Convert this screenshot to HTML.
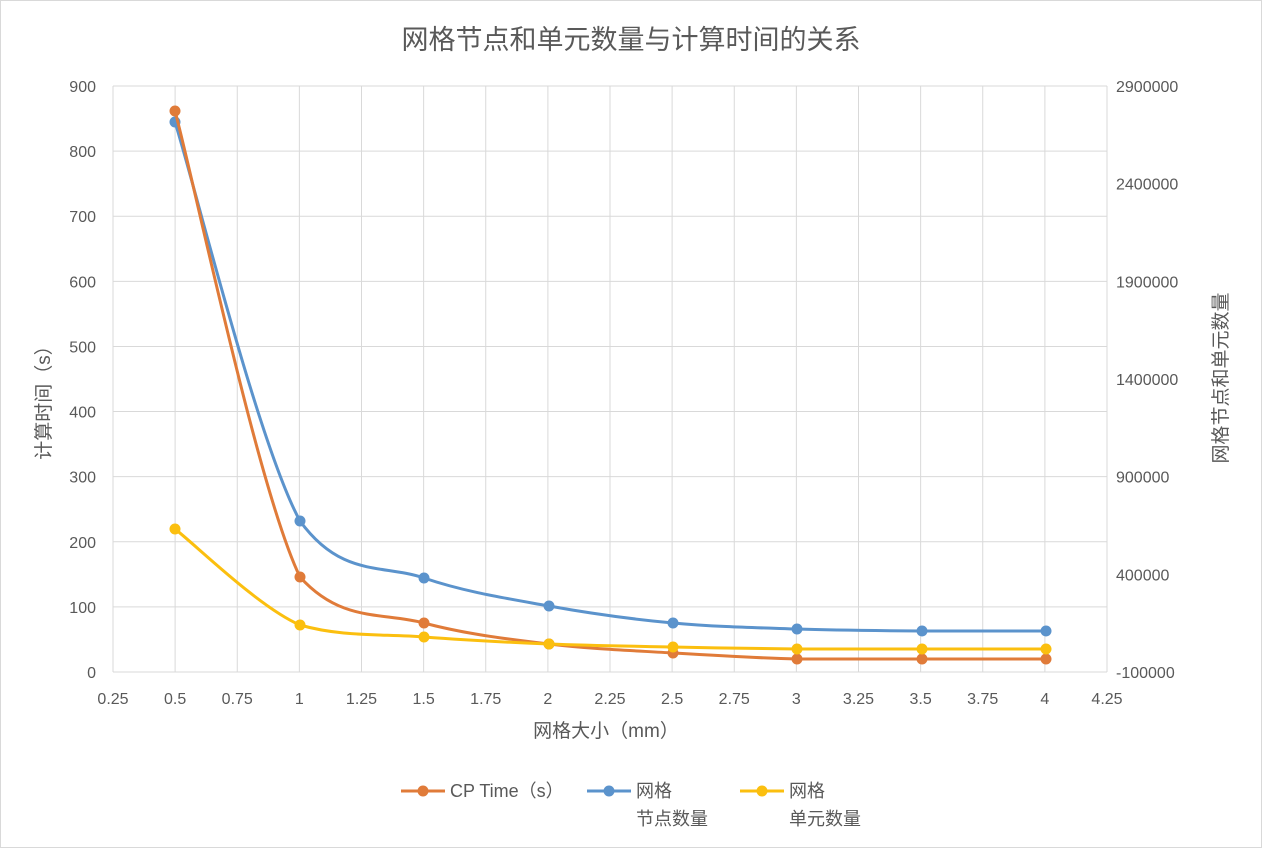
<!DOCTYPE html>
<html><head><meta charset="utf-8"><style>
body{margin:0;background:#fff;}
svg text{font-family:"Liberation Sans","Noto Sans CJK SC",sans-serif;fill:#595959;}
</style></head><body>
<svg id="s" width="1262" height="848" xmlns="http://www.w3.org/2000/svg">
<rect x="0.5" y="0.5" width="1261" height="847" fill="#fff" stroke="#d9d9d9"/>
<text x="631" y="49" font-size="27" text-anchor="middle">网格节点和单元数量与计算时间的关系</text>
<g id="grid"></g>
<g id="series"></g>
<text transform="translate(50,398) rotate(-90)" font-size="19" text-anchor="middle">计算时间（s）</text>
<text transform="translate(1227,378) rotate(-90)" font-size="19" text-anchor="middle">网格节点和单元数量</text>
<text x="606" y="737" font-size="19" text-anchor="middle">网格大小（mm）</text>
<g font-size="18">
<line x1="401" y1="791" x2="445" y2="791" stroke="#e07b39" stroke-width="3"/><circle cx="423" cy="791" r="5.5" fill="#e07b39"/>
<text x="450" y="797">CP Time（s）</text>
<line x1="587" y1="791" x2="631" y2="791" stroke="#5b93cc" stroke-width="3"/><circle cx="609" cy="791" r="5.5" fill="#5b93cc"/>
<text x="636" y="797">网格</text><text x="636" y="825">节点数量</text>
<line x1="740" y1="791" x2="784" y2="791" stroke="#fbbf0f" stroke-width="3"/><circle cx="762" cy="791" r="5.5" fill="#fbbf0f"/>
<text x="789" y="797">网格</text><text x="789" y="825">单元数量</text>
</g>
</svg>
<script>
var NS="http://www.w3.org/2000/svg",g=document.getElementById('grid'),se=document.getElementById('series');
function el(p,t,a,txt){var e=document.createElementNS(NS,t);for(var k in a)e.setAttribute(k,a[k]);if(txt!=null)e.textContent=txt;p.appendChild(e);return e;}
var x0=113,x1=1107,y0=672,y1=86;
for(var i=0;i<=16;i++){var x=x0+(x1-x0)*i/16;el(g,'line',{x1:x,y1:y1,x2:x,y2:y0,stroke:'#d9d9d9'});
var v=(0.25+0.25*i);el(g,'text',{x:x,y:704,'font-size':16,'text-anchor':'middle'},String(+v.toFixed(2)));}
for(var j=0;j<=9;j++){var y=y0-(y0-y1)*j/9;el(g,'line',{x1:x0,y1:y,x2:x1,y2:y,stroke:'#d9d9d9'});
el(g,'text',{x:96,y:y+6,'font-size':16,'text-anchor':'end'},String(j*100));}
for(var j=0;j<=6;j++){var y=y0-(y0-y1)*j/6;el(g,'text',{x:1116,y:y+6,'font-size':16},String(-100000+500000*j));}
function cl(v,a,b){var lo=Math.min(a,b),hi=Math.max(a,b);return Math.max(lo,Math.min(hi,v));}
function path(p){var d='M'+p[0][0]+','+p[0][1];for(var i=0;i<p.length-1;i++){var a=p[Math.max(i-1,0)],b=p[i],c=p[i+1],e=p[Math.min(i+2,p.length-1)];
var y1=cl(b[1]+(c[1]-a[1])/6,b[1],c[1]),y2=cl(c[1]-(e[1]-b[1])/6,b[1],c[1]);
d+=' C'+(b[0]+(c[0]-a[0])/6)+','+y1+' '+(c[0]-(e[0]-b[0])/6)+','+y2+' '+c[0]+','+c[1];}return d;}
var xs=[175,300,424,549,673,797,922,1046];
var S=[['#5b93cc',[122,521,578,606,623,629,631,631]],['#e07b39',[111,577,623,644,653,659,659,659]],['#fbbf0f',[529,625,637,644,647,649,649,649]]];
S.forEach(function(s){var p=xs.map(function(x,i){return [x,s[1][i]];});
el(se,'path',{d:path(p),fill:'none',stroke:s[0],'stroke-width':3});
p.forEach(function(q){el(se,'circle',{cx:q[0],cy:q[1],r:5.5,fill:s[0]});});});
</script>
</body></html>
